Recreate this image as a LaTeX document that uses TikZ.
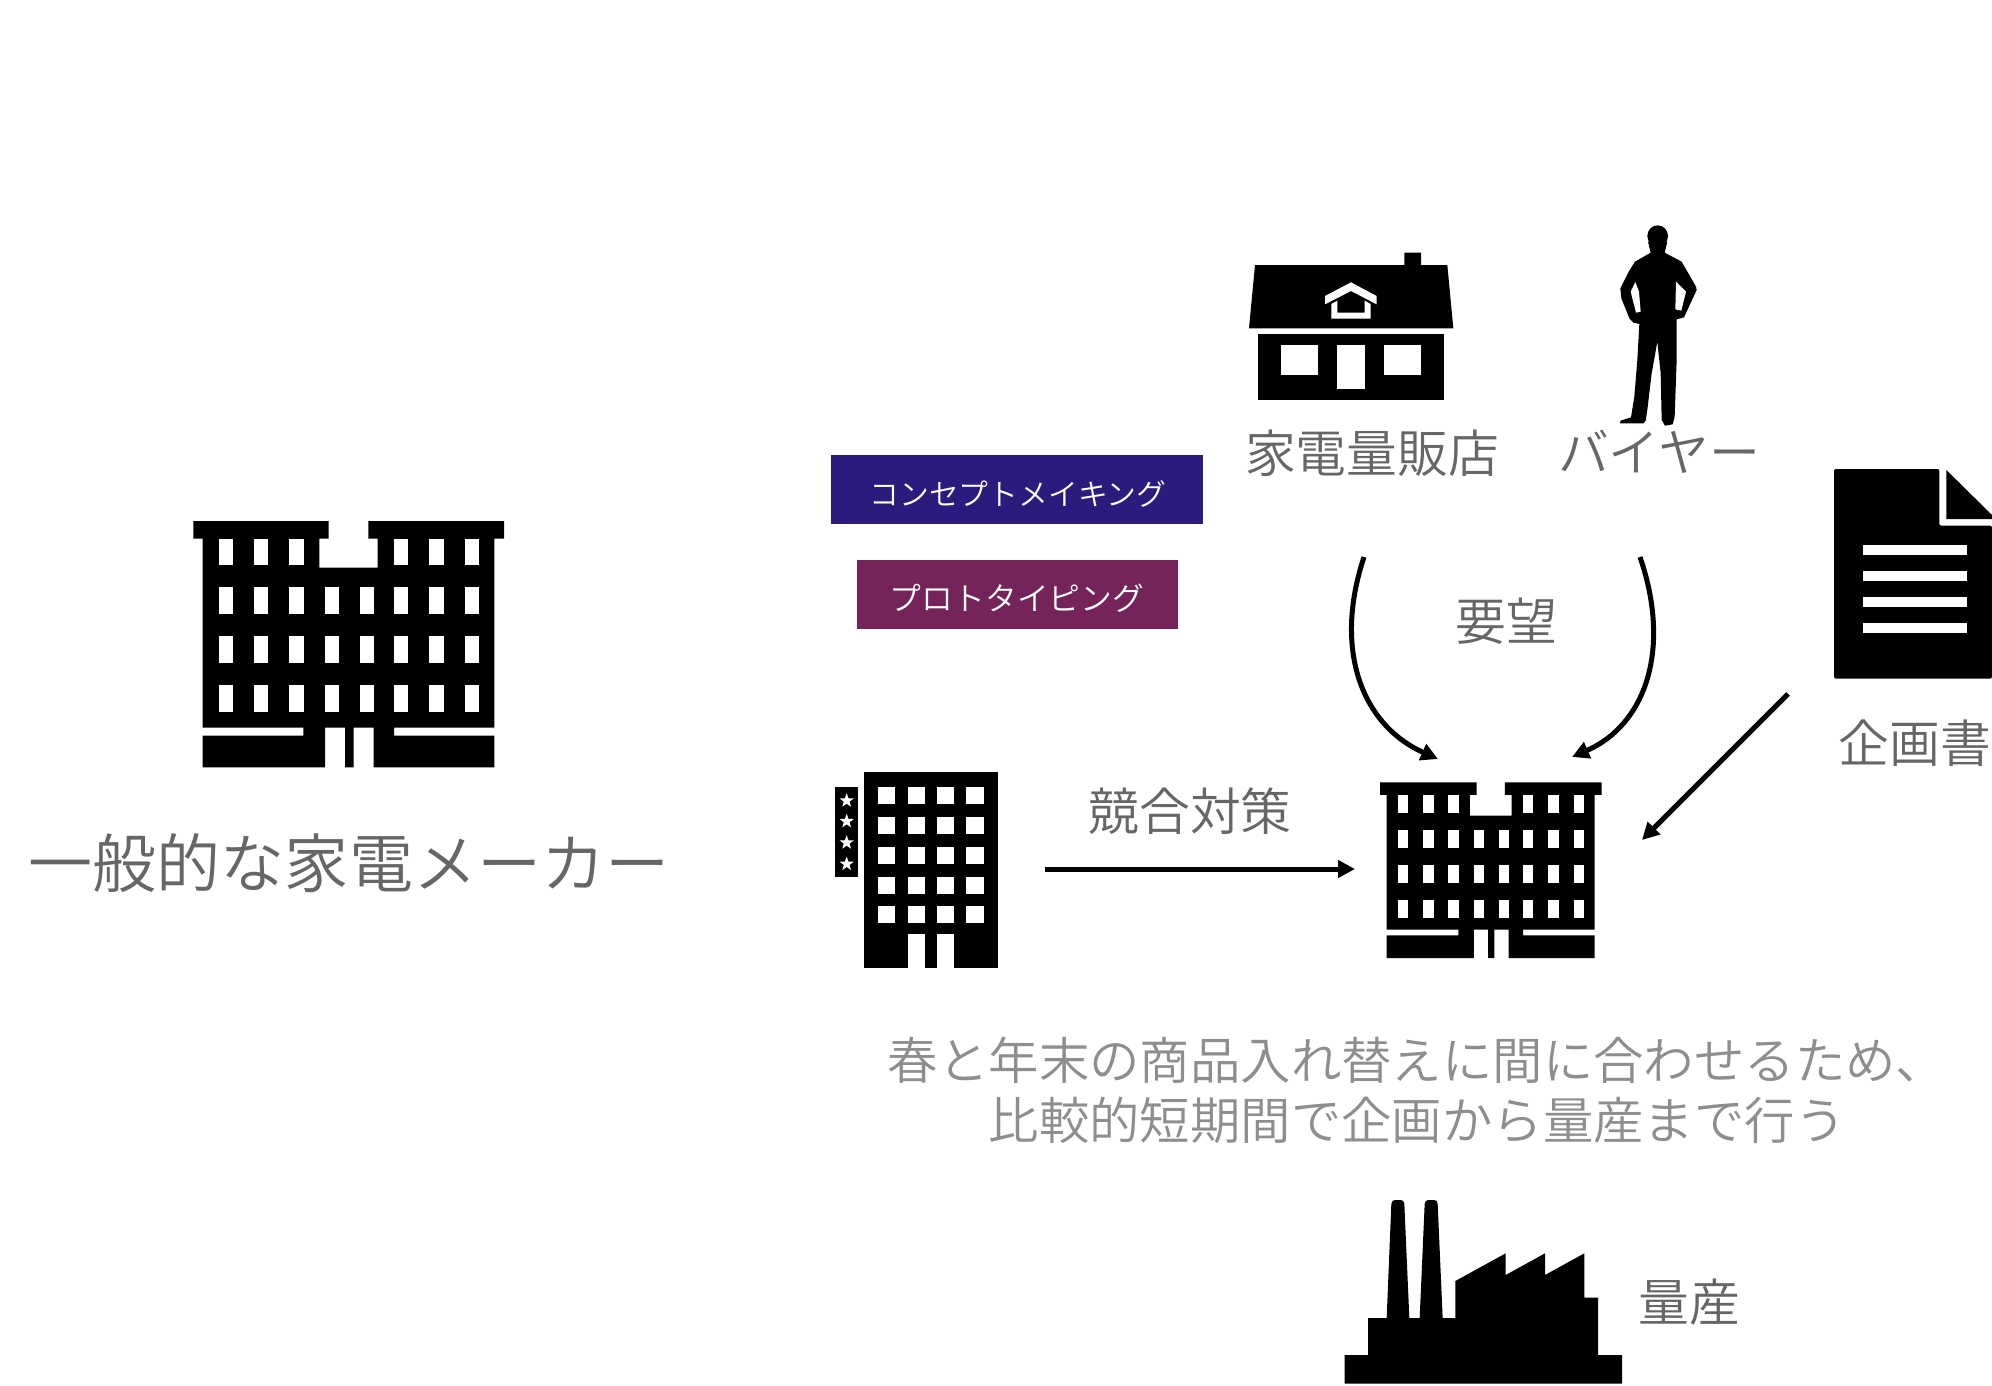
\documentclass[tikz,border=0pt]{standalone}
\usepackage{fontspec}
\usetikzlibrary{arrows.meta,shapes.geometric}
\newfontfamily\jpf{Noto Sans CJK JP DemiLight}
\definecolor{txtdark}{HTML}{666666}
\definecolor{txtlight}{HTML}{8E8E8E}
\definecolor{boxblue}{HTML}{2A1C7C}
\definecolor{boxpurple}{HTML}{75245A}
\tikzset{
  lbl/.style={inner sep=0pt,text=txtdark,font=\jpf\fontsize{25.4}{30}\selectfont},
  biglbl/.style={lbl,font=\jpf\fontsize{32.05}{38}\selectfont},
  notelbl/.style={lbl,text=txtlight,align=center,font=\jpf\fontsize{25.2}{30}\selectfont},
  tagbox/.style={inner sep=0pt,text=white,font=\jpf\fontsize{14.9}{18}\selectfont},
  tagboxb/.style={tagbox,font=\jpf\fontsize{15.9}{18}\selectfont},
  conn/.style={draw=black,line width=2.5pt,-{Stealth[length=8.5pt,width=8.5pt,inset=0pt]}}
}
\newcommand{\winrow}[4]{% y1, y2, list
  \foreach \wx in {#3}{\fill[white] (\wx,#1) rectangle ++(#4,#2-#1);}}
\newcommand{\officebldg}{%
  \fill[black] (70,63) -- (476,63) -- (476,116) -- (448,116) -- (448,203) -- (623,203) -- (623,116) -- (595,116) -- (595,63) -- (1002,63) -- (1002,116) -- (973,116) -- (973,683) -- (672,683) -- (672,707) -- (973,707) -- (973,802) -- (611,802) -- (611,683) -- (551,683) -- (551,802) -- (525,802) -- (525,683) -- (465,683) -- (465,802) -- (98,802) -- (98,707) -- (400,707) -- (400,683) -- (98,683) -- (98,116) -- (70,116) -- cycle;
  \winrow{116}{194}{146,252,358,672,778,884}{43}
  \winrow{262}{341}{146,252,358,465,569,672,778,884}{43}
  \winrow{409}{488}{146,252,358,465,569,672,778,884}{43}
  \winrow{556}{635}{146,252,358,465,569,672,778,884}{43}
}
\begin{document}
\begin{tikzpicture}[x=0.5pt,y=-0.5pt]
\useasboundingbox (0,0) rectangle (1992,1386);
% office buildings
\begin{scope}[shift={(170,500)},scale=1/3]\officebldg\end{scope}
\begin{scope}[shift={(1363.35,767.3)},scale=0.2378]\officebldg\end{scope}
% house
\begin{scope}[shift={(1220,210)},scale=1/3]
  \fill[black] (105,165) -- (553,165) -- (553,128) -- (603,128) -- (603,165) -- (682,165) -- (700,355) -- (87,355) -- cycle;
  \fill[black] (113,373) rectangle (673,571);
  \fill[white] (182,406) rectangle (294,494);
  \fill[white] (352,406) rectangle (434,537);
  \fill[white] (492,406) rectangle (603,494);
  \fill[white] (315,258) -- (393,217) -- (470,258) -- (470,283) -- (393,243) -- (315,283) -- cycle;
  \fill[white] (334,282) -- (352,272) -- (352,308) -- (434,308) -- (434,272) -- (452,282) -- (452,326) -- (334,326) -- cycle;
\end{scope}
% person
\begin{scope}[shift={(1220,210)},scale=1/3]
  \fill[black] (1313,78) ellipse [x radius=31,y radius=32];
  \fill[black] (1284,95) -- (1292,128) -- (1245,155) -- (1226,185) -- (1201,235) -- (1204,265) -- (1228,325) -- (1240,338) -- (1258,342) -- (1252,450) -- (1243,560) -- (1233,622) -- (1202,632) -- (1200,640) -- (1270,640) -- (1277,632) -- (1282,600) -- (1295,490) -- (1312,395) -- (1322,490) -- (1325,630) -- (1335,647) -- (1358,643) -- (1364,620) -- (1370,450) -- (1370,328) -- (1392,322) -- (1430,240) -- (1428,230) -- (1385,155) -- (1334,128) -- (1342,95) -- cycle;
  \fill[white] (1246,216) -- (1232,245) -- (1248,308) -- (1262,305) -- (1257,245) -- cycle;
  \fill[white] (1368,215) -- (1366,298) -- (1384,302) -- (1398,245) -- cycle;
\end{scope}
% document
\begin{scope}[shift={(1800,450)},scale=1/3]
  \fill[black,rounded corners=1pt] (102,57) -- (418,57) -- (418,227) -- (576,227) -- (576,686) -- (102,686) -- cycle;
  \fill[black] (439,60) -- (576,195) -- (576,207) -- (439,207) -- cycle;
  \foreach \ly in {285,363,441,519}{\fill[white] (189,\ly) rectangle (501,\ly+31);}
\end{scope}
% hotel
\begin{scope}[shift={(820,760)},scale=1/3]
  \fill[black] (133,35) rectangle (533,623);
  \fill[black] (46,82) rectangle (114,350);
  \foreach \hy in {82,171,261,350,439}{
    \foreach \hx in {174,263,351,439}{\fill[white] (\hx,\hy) rectangle ++(52,51);}}
  \fill[white] (263,522) rectangle (315,623);
  \fill[white] (351,522) rectangle (403,623);
  \foreach \sy [count=\si] in {122,184,248,312}{
    \node[star,star points=5,star point ratio=2.5,fill=white,draw=none,inner sep=0pt,minimum size=7.5pt] (star\si) at (80,\sy) {};}
\end{scope}
% factory
\begin{scope}[shift={(1330,1190)},scale=1/3]
  \fill[black] (44,581) -- (44,495) -- (114,495) -- (114,384) -- (170,384) -- (184,42) .. controls (185,34) and (188,30) .. (195,30) -- (212,30) .. controls (219,30) and (222,34) .. (223,42) -- (238,384) -- (269,384) -- (284,42) .. controls (285,34) and (288,30) .. (295,30) -- (312,30) .. controls (319,30) and (322,34) .. (323,42) -- (338,384) -- (376,384) -- (376,273) -- (527,190) -- (527,255) -- (645,190) -- (645,255) -- (763,190) -- (763,323) -- (804,323) -- (804,495) -- (876,495) -- (876,581) -- cycle;
\end{scope}
% tag boxes
\fill[boxblue] (831,455) rectangle (1203,524);
\fill[boxpurple] (857,560) rectangle (1178,629);
\node[tagbox] (tagA) at (1018,494) {コンセプトメイキング};
\node[tagboxb] (tagB) at (1017,598) {プロトタイピング};
% labels
\node[biglbl] (general) at (349,863) {一般的な家電メーカー};
\node[lbl] (store) at (1372,453) {家電量販店};
\node[lbl] (buyer) at (1659,452) {バイヤー};
\node[lbl] (wish) at (1506,621) {要望};
\node[lbl] (plan) at (1915,743) {企画書};
\node[lbl] (rival) at (1190,811) {競合対策};
\node[lbl] (mass) at (1689,1302) {量産};
\node[notelbl] (note) at (1417,1090) {春と年末の商品入れ替えに間に合わせるため、\\比較的短期間で企画から量産まで行う};
% connector ends
\coordinate (s1) at (1364,557);
\coordinate (e1) at (1438,759);
\coordinate (s2) at (1640,557);
\coordinate (e2) at (1572,757);
\coordinate (s3) at (1045,869);
\coordinate (e3) at (1355,869);
\coordinate (s4) at (1788,694);
\coordinate (e4) at (1642,840);
\draw[conn] (s1) .. controls (1333,650) and (1362,725) .. (e1);
\draw[conn] (s2) .. controls (1672,650) and (1645,725) .. (e2);
\draw[conn] (s3) -- (e3);
\draw[conn] (s4) -- (e4);
\end{tikzpicture}
\end{document}
